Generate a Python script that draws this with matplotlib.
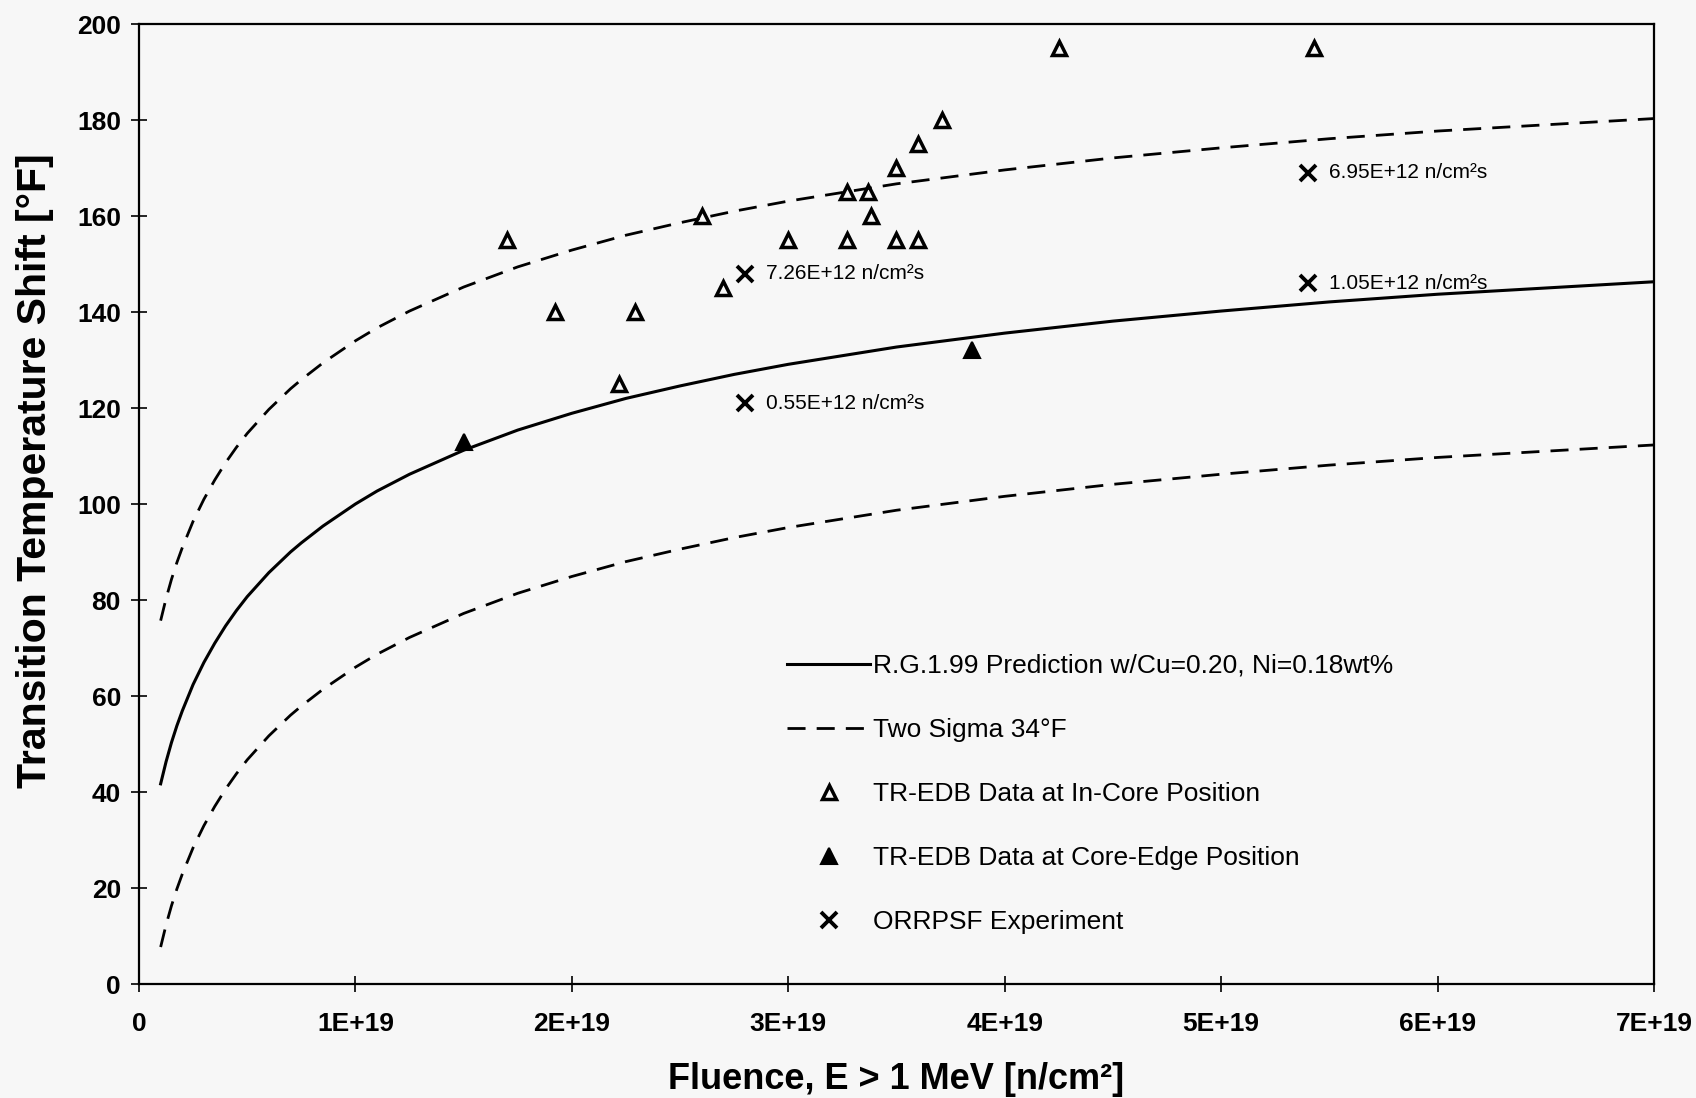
import numpy as np
import matplotlib.pyplot as plt

plt.rcParams['font.family'] = ['Liberation Sans', 'DejaVu Sans']

# R.G.1.99 prediction curve and two-sigma band
# (fluence in n/cm2, shift in F)
fluence_curve = [0.1e19, 0.125e19, 0.15e19, 0.175e19, 0.2e19, 0.25e19, 0.3e19, 0.35e19,
                 0.4e19, 0.45e19, 0.5e19, 0.6e19, 0.7e19, 0.75e19, 0.85e19, 1.0e19,
                 1.1e19, 1.25e19, 1.5e19, 1.75e19, 2.0e19, 2.25e19, 2.5e19, 2.75e19,
                 3.0e19, 3.5e19, 4.0e19, 4.5e19, 5.0e19, 5.5e19, 6.0e19, 6.5e19, 7.0e19]
prediction = [41.7, 46.3, 50.3, 53.8, 56.9, 62.4, 67.0, 71.0,
              74.6, 77.8, 80.7, 85.7, 90.0, 91.9, 95.4, 100.0,
              102.7, 106.2, 111.2, 115.4, 118.9, 122.0, 124.6, 127.0,
              129.1, 132.7, 135.6, 138.1, 140.2, 142.1, 143.7, 145.0, 146.3]
upper_band = [75.7, 80.3, 84.3, 87.8, 90.9, 96.4, 101.0, 105.0,
              108.6, 111.8, 114.7, 119.7, 124.0, 125.9, 129.4, 134.0,
              136.7, 140.2, 145.2, 149.4, 152.9, 156.0, 158.6, 161.0,
              163.1, 166.7, 169.6, 172.1, 174.2, 176.1, 177.7, 179.0, 180.3]
lower_band = [7.7, 12.3, 16.3, 19.8, 22.9, 28.4, 33.0, 37.0,
              40.6, 43.8, 46.7, 51.7, 56.0, 57.9, 61.4, 66.0,
              68.7, 72.2, 77.2, 81.4, 84.9, 88.0, 90.6, 93.0,
              95.1, 98.7, 101.6, 104.1, 106.2, 108.1, 109.7, 111.0, 112.3]

# TR-EDB data, in-core position (open triangles)
incore_x = [1.70e19, 1.92e19, 2.22e19, 2.29e19, 2.60e19, 2.70e19, 3.00e19, 3.27e19, 3.27e19,
            3.37e19, 3.38e19, 3.50e19, 3.50e19, 3.60e19, 3.60e19, 3.71e19, 4.25e19, 5.43e19]
incore_y = [155, 140, 125, 140, 160, 145, 155, 165, 155,
            165, 160, 170, 155, 175, 155, 180, 195, 195]

# TR-EDB data, core-edge position (filled triangles)
edge_x = [1.50e19, 3.85e19]
edge_y = [113, 132]

# ORRPSF experiment (crosses) with flux labels
orr_x = [2.80e19, 2.80e19, 5.40e19, 5.40e19]
orr_y = [148, 121, 169, 146]
orr_labels = ['7.26E+12 n/cm\u00b2s', '0.55E+12 n/cm\u00b2s',
              '6.95E+12 n/cm\u00b2s', '1.05E+12 n/cm\u00b2s']

x_ticks = [0, 1e19, 2e19, 3e19, 4e19, 5e19, 6e19, 7e19]
x_tick_labels = ['0', '1E+19', '2E+19', '3E+19', '4E+19', '5E+19', '6E+19', '7E+19']
y_ticks = list(range(0, 201, 20))

bg = '#f7f7f7'
fig = plt.figure(figsize=(16.96, 10.98), dpi=100, facecolor=bg)
ax = fig.add_axes([139 / 1696, 1 - 984 / 1098, (1654 - 139) / 1696, (984 - 24) / 1098])
ax.set_facecolor(bg)

ax.plot(fluence_curve, prediction, color='black', lw=2.2,
        label='R.G.1.99 Prediction w/Cu=0.20, Ni=0.18wt%')
ax.plot(fluence_curve, upper_band, color='black', lw=2.0, dashes=(6.5, 4),
        label='Two Sigma 34\u00b0F')
ax.plot(fluence_curve, lower_band, color='black', lw=2.0, dashes=(6.5, 4))

ax.plot(incore_x, incore_y, ls='none', marker='^', ms=10.5, mfc='none', mec='black', mew=2.5,
        label='TR-EDB Data at In-Core Position')
ax.plot(edge_x, edge_y, ls='none', marker='^', ms=11.5, mfc='black', mec='black', mew=1.5,
        label='TR-EDB Data at Core-Edge Position')
ax.plot(orr_x, orr_y, ls='none', marker='x', ms=11, mec='black', mew=2.8,
        label='ORRPSF Experiment')

for xv, yv, txt in zip(orr_x, orr_y, orr_labels):
    ax.annotate(txt, (xv, yv), xytext=(15, 0), textcoords='offset points',
                va='center', ha='left', fontsize=15)

ax.set_xlim(0, 7e19)
ax.set_ylim(0, 200)
ax.set_xticks(x_ticks)
ax.set_xticklabels(x_tick_labels)
ax.set_yticks(y_ticks)
ax.tick_params(direction='inout', length=12, width=1.2, labelsize=19, colors='black')
ax.tick_params(axis='x', pad=14)
ax.tick_params(axis='y', pad=7)
for lab in ax.get_xticklabels() + ax.get_yticklabels():
    lab.set_fontweight('bold')
for sp in ax.spines.values():
    sp.set_linewidth(1.6)
    sp.set_color('black')

ax.set_xlabel('Fluence, E > 1 MeV [n/cm\u00b2]', fontsize=26, fontweight='bold')
ax.set_ylabel('Transition Temperature Shift [\u00b0F]', fontsize=29.5, fontweight='bold')
ax.xaxis.set_label_coords(0.5, -0.081)
ax.yaxis.set_label_coords(-0.056, 0.535)

leg = ax.legend(loc='upper left', bbox_to_anchor=(0.421, 0.355), frameon=False,
                fontsize=19, handlelength=3.15, handletextpad=0.1, labelspacing=1.52,
                borderaxespad=0)

fig.savefig('out.png', dpi=100, facecolor=bg)
